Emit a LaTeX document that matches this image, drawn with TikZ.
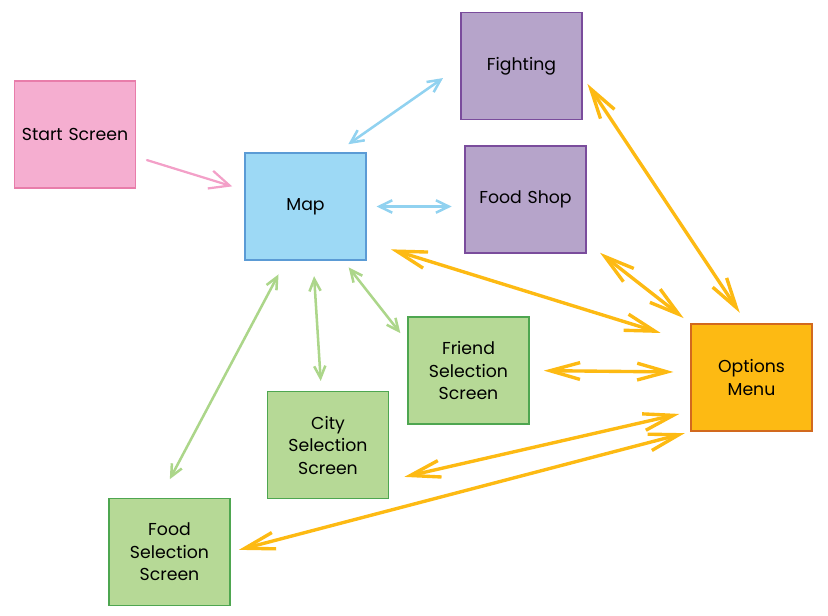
\documentclass[tikz,border=0pt]{standalone}
\usepackage{fontspec}
\setmainfont{Poppins}
\usepackage{xcolor}
\usepackage{tikz}
\usetikzlibrary{arrows.meta, positioning, calc}
\definecolor{startfill}{RGB}{245,174,208}
\definecolor{startdraw}{RGB}{232,125,170}
\definecolor{mapfill}{RGB}{157,217,245}
\definecolor{mapdraw}{RGB}{91,155,213}
\definecolor{shopfill}{RGB}{182,164,202}
\definecolor{shopdraw}{RGB}{122,76,156}
\definecolor{optfill}{RGB}{253,186,19}
\definecolor{optdraw}{RGB}{210,105,30}
\definecolor{selfill}{RGB}{182,217,150}
\definecolor{seldraw}{RGB}{78,166,80}
\definecolor{pinkline}{RGB}{243,160,200}
\definecolor{blueline}{RGB}{145,210,240}
\definecolor{greenline}{RGB}{172,214,138}
\definecolor{orangeline}{RGB}{253,186,19}
\tikzset{
  screen/.style={rectangle, minimum width=3.025cm, minimum height=2.675cm,
    text width=2.9cm, align=center, font=\fontsize{12.3}{16}\selectfont,
    line width=1pt, inner sep=0pt},
  startbox/.style={screen, draw=startdraw, fill=startfill},
  mapbox/.style={screen, draw=mapdraw, fill=mapfill},
  shopbox/.style={screen, draw=shopdraw, fill=shopfill},
  optbox/.style={screen, draw=optdraw, fill=optfill},
  selbox/.style={screen, draw=seldraw, fill=selfill},
  pinkarrow/.style={line width=1.6pt, line cap=round, color=pinkline,
    -{Straight Barb[length=5mm,width=4.6mm]}},
  bluearrow/.style={line width=1.8pt, line cap=round, color=blueline,
    arrows={Straight Barb[length=3.2mm,width=3.1mm]-Straight Barb[length=3.2mm,width=3.1mm]}},
  greenarrow/.style={line width=1.8pt, line cap=round, color=greenline,
    arrows={Straight Barb[length=3mm,width=2.8mm]-Straight Barb[length=3mm,width=2.8mm]}},
  orangearrow/.style={line width=2.4pt, line cap=round, color=orangeline,
    arrows={Straight Barb[length=7.5mm,width=4.2mm]-Straight Barb[length=7.5mm,width=4.2mm]}}
}

\begin{document}
\begin{tikzpicture}[x=0.025cm, y=-0.025cm]
  % Canvas
  \useasboundingbox (0,0) rectangle (828,616);

  % Screens
  \node[startbox] (start) at (75,134.5) {Start Screen};
  \node[mapbox] (map) at (305.5,206.5) {Map};
  \node[shopbox] (fighting) at (521.5,66) {Fighting};
  \node[shopbox] (shop) at (525.5,199.5) {Food Shop};
  \node[optbox] (options) at (751.5,377.5) {Options\\Menu};
  \node[selbox] (friend) at (468.5,370.5) {Friend\\Selection\\Screen};
  \node[selbox] (city) at (328,445) {City\\Selection\\Screen};
  \node[selbox] (food) at (169.5,552) {Food\\Selection\\Screen};

  % Start to map
  \draw[pinkarrow, shorten <=8pt, shorten >=9pt] (start.-20) -- (map.165);

  % Map links
  \draw[bluearrow, shorten <=10pt, shorten >=15pt] (map.60) -- (fighting.west);
  \draw[bluearrow, shorten <=7pt, shorten >=9pt] (map.east) -- (shop.west |- map.east);
  \draw[greenarrow, shorten <=11pt, shorten >=15pt] (map.-110) -- (food.100);
  \draw[greenarrow, shorten <=11pt, shorten >=7pt] (map.-82) -- (city.97);
  \draw[greenarrow, shorten <=6pt, shorten >=8pt] (map.-55) -- (friend.155);

  % Options links
  \draw[orangearrow, shorten <=9pt, shorten >=6pt] (options.95) -- (fighting.-10);
  \draw[orangearrow, shorten <=6pt, shorten >=12pt] (options.north west) -- (shop.-35);
  \draw[orangearrow, shorten <=22pt, shorten >=18pt] (options.150) -- (map.-30);
  \draw[orangearrow, shorten <=12pt, shorten >=10pt] (options.175) -- (friend.east);
  \draw[orangearrow, shorten <=8pt, shorten >=11pt] (options.-151) -- (city.-30);
  \draw[orangearrow, shorten <=4pt, shorten >=6pt] (options.south west) -- (food.east);
\end{tikzpicture}
\end{document}
